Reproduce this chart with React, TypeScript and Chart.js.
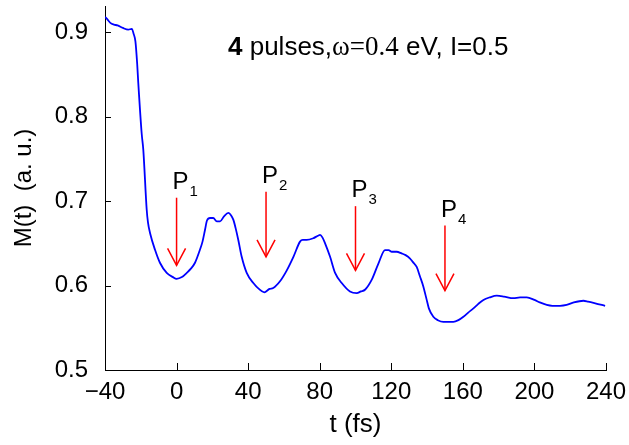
import React, { useEffect, useRef } from "react";
import { Chart, registerables } from "chart.js";

Chart.register(...registerables);

// ---- data ----
const timeFs = [
  -40, -39, -37, -35, -33, -30, -27, -25, -24, -23, -22, -21.4, -19.5, -18.6, -16.7, -16, -14.8, -12, -9.3, -5.5,
  -2, 0, 3, 5.7, 8, 10.3, 13, 14.5, 15.9, 17, 18.7, 20.5, 22.5, 24.3, 26.5, 29, 30.5, 31.7, 33, 34.5,
  36.4, 39.2, 42.9, 46, 49, 52, 54, 57.8, 61.6, 65.3, 69, 70.5, 72.7, 76.4, 79, 80.2, 81.5, 83, 85.8, 88.6,
  92.3, 96.9, 100.7, 103, 105.3, 109.1, 112.8, 116.5, 118.5, 120.3, 123, 125.8, 128, 130.5, 132, 134.2, 136, 137.9, 139.8, 141,
  143.5, 146, 149.1, 152, 154.7, 157.5, 160.3, 163, 165.9, 168.5, 171.5, 175, 179, 183, 188.2, 192, 195.7, 200, 203, 206.9,
  210, 214.3, 218, 222, 227.4, 230, 234, 239.5,
];
const magnetization = [
  0.918, 0.916, 0.911, 0.909, 0.908, 0.905, 0.903, 0.904, 0.898, 0.889, 0.862, 0.84, 0.78, 0.761, 0.69, 0.675, 0.662, 0.642, 0.627, 0.615,
  0.61, 0.608, 0.61, 0.615, 0.62, 0.627, 0.642, 0.652, 0.666, 0.677, 0.68, 0.68, 0.676, 0.676, 0.682, 0.686, 0.683, 0.678, 0.668, 0.654,
  0.634, 0.615, 0.603, 0.596, 0.592, 0.596, 0.597, 0.605, 0.618, 0.634, 0.652, 0.654, 0.654, 0.656, 0.659, 0.66, 0.657, 0.65, 0.634, 0.615,
  0.603, 0.593, 0.591, 0.593, 0.595, 0.607, 0.626, 0.642, 0.642, 0.64, 0.64, 0.638, 0.636, 0.632, 0.628, 0.622, 0.611, 0.599, 0.583, 0.573,
  0.563, 0.559, 0.557, 0.557, 0.557, 0.559, 0.563, 0.568, 0.573, 0.578, 0.583, 0.586, 0.588, 0.587, 0.585, 0.586, 0.586, 0.583, 0.58, 0.577,
  0.576, 0.576, 0.577, 0.58, 0.582, 0.581, 0.579, 0.576,
];

const xTicks = [-40, 0, 40, 80, 120, 160, 200, 240];
const yTicks = [0.5, 0.6, 0.7, 0.8, 0.9];

const pulseNames = ["1", "2", "3", "4"];
const pulseTimes = [0, 50, 100, 150];
const arrowTop = [0.704, 0.711, 0.694, 0.671];
const arrowTip = [0.624, 0.634, 0.618, 0.594];

const titleCount = "4";
const titleMid = " pulses,";
const titleOmega = "ω=0.4";
const titleEnd = " eV, I=0.5";

const xTitle = "t (fs)";
const yTitle = "M(t)  (a. u.)";

const SANS = '"Liberation Sans", Arial, sans-serif';
const SERIF = '"Liberation Serif", "Times New Roman", serif';

const annotations = {
  id: "annotations",
  afterDraw(chart: any) {
    const { ctx, chartArea } = chart;
    const x = chart.scales.x;
    const y = chart.scales.y;
    ctx.save();

    // inward tick marks
    ctx.strokeStyle = "#000";
    ctx.lineWidth = 1;
    xTicks.forEach((v) => {
      const px = Math.round(x.getPixelForValue(v)) + 0.5;
      ctx.beginPath();
      ctx.moveTo(px, chartArea.bottom);
      ctx.lineTo(px, chartArea.bottom - 7);
      ctx.stroke();
    });
    yTicks.forEach((v) => {
      const py = Math.round(y.getPixelForValue(v)) + 0.5;
      ctx.beginPath();
      ctx.moveTo(chartArea.left, py);
      ctx.lineTo(chartArea.left + 6, py);
      ctx.stroke();
    });

    // arrows + labels
    pulseTimes.forEach((t, i) => {
      const px = x.getPixelForValue(t);
      const top = y.getPixelForValue(arrowTop[i]);
      const tip = y.getPixelForValue(arrowTip[i]);
      ctx.strokeStyle = "#ff0000";
      ctx.lineWidth = 1.5;
      ctx.beginPath();
      ctx.moveTo(px, top);
      ctx.lineTo(px, tip);
      ctx.stroke();
      ctx.beginPath();
      ctx.moveTo(px - 9, tip - 17);
      ctx.lineTo(px, tip);
      ctx.lineTo(px + 9, tip - 17);
      ctx.stroke();

      ctx.fillStyle = "#000";
      ctx.textAlign = "left";
      ctx.textBaseline = "alphabetic";
      ctx.font = `24px ${SANS}`;
      const lx = px - 4;
      const ly = top - 9;
      ctx.fillText("P", lx, ly);
      const w = ctx.measureText("P").width;
      ctx.font = `15px ${SANS}`;
      ctx.fillText(pulseNames[i], lx + w + 1, ly + 7);
    });

    // title
    let tx = chartArea.left + 123;
    const ty = chartArea.top + 49;
    ctx.fillStyle = "#000";
    ctx.textAlign = "left";
    ctx.textBaseline = "alphabetic";
    ctx.font = `bold 26px ${SANS}`;
    ctx.fillText(titleCount, tx, ty);
    tx += ctx.measureText(titleCount).width;
    ctx.font = `26px ${SANS}`;
    ctx.fillText(titleMid, tx, ty);
    tx += ctx.measureText(titleMid).width;
    ctx.font = `27px ${SERIF}`;
    ctx.fillText(titleOmega, tx, ty);
    tx += ctx.measureText(titleOmega).width;
    ctx.font = `26px ${SANS}`;
    ctx.fillText(titleEnd, tx, ty);

    ctx.restore();
  },
};

export default function App() {
  const canvasRef = useRef<HTMLCanvasElement | null>(null);

  useEffect(() => {
    const canvas = canvasRef.current;
    if (!canvas) return;
    const points = timeFs.map((t, i) => ({ x: t, y: magnetization[i] }));
    const chart = new Chart(canvas, {
      type: "line",
      data: {
        datasets: [
          {
            data: points,
            borderColor: "#0000ff",
            borderWidth: 1.8,
            pointRadius: 0,
            cubicInterpolationMode: "monotone",
            fill: false,
          },
        ],
      },
      options: {
        animation: false,
        responsive: true,
        maintainAspectRatio: false,
        layout: { padding: { left: 0, right: 23, top: 6, bottom: 0 } },
        plugins: {
          legend: { display: false },
          tooltip: { enabled: false },
          title: { display: false },
        },
        scales: {
          x: {
            type: "linear",
            min: -40,
            max: 240,
            afterBuildTicks: (scale: any) => {
              scale.ticks = xTicks.map((v) => ({ value: v }));
            },
            afterFit: (scale: any) => {
              scale.height = 75;
              scale.paddingLeft = 0;
              scale.paddingRight = 0;
            },
            grid: { display: true, drawOnChartArea: false, drawTicks: false },
            border: { display: true, color: "#000", width: 1 },
            ticks: {
              color: "#000",
              padding: 8,
              maxRotation: 0,
              autoSkip: false,
              font: { family: SANS, size: 24 },
              callback: (v: any) => (Number(v) < 0 ? "\u2212" + Math.abs(Number(v)) : String(v)),
            },
            title: {
              display: true,
              text: xTitle,
              color: "#000",
              font: { family: SANS, size: 26 },
              padding: { top: 0, bottom: 5 },
            },
          },
          y: {
            type: "linear",
            min: 0.5,
            max: 0.931,
            afterBuildTicks: (scale: any) => {
              scale.ticks = yTicks.map((v) => ({ value: v }));
            },
            afterFit: (scale: any) => {
              scale.width = 105;
              scale.paddingTop = 0;
              scale.paddingBottom = 0;
            },
            grid: { display: true, drawOnChartArea: false, drawTicks: false },
            border: { display: true, color: "#000", width: 1 },
            ticks: {
              color: "#000",
              padding: 17,
              autoSkip: false,
              font: { family: SANS, size: 24 },
              callback: (v: any) => Number(v).toFixed(1),
            },
            title: {
              display: true,
              text: yTitle,
              color: "#000",
              font: { family: SANS, size: 24 },
              padding: { top: 10, bottom: 0 },
            },
          },
        },
      },
      plugins: [annotations],
    });
    return () => chart.destroy();
  }, []);

  return (
    <div style={{ position: "fixed", left: 0, top: 0, width: 629, height: 445, background: "#fff" }}>
      <canvas ref={canvasRef} />
    </div>
  );
}
